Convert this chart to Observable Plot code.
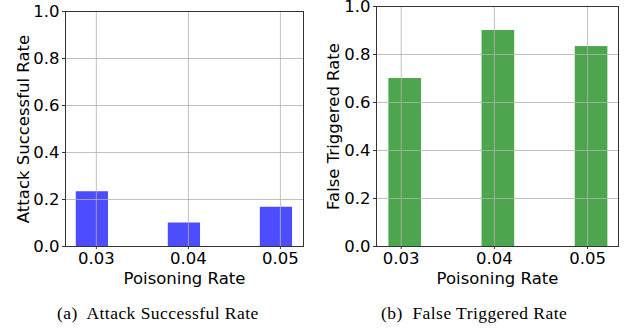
<!DOCTYPE html>
<html>
<head>
<meta charset="utf-8">
<script src="https://cdn.jsdelivr.net/npm/d3@7"></script>
<script src="https://cdn.jsdelivr.net/npm/@observablehq/plot@0.6"></script>
<style>
  html, body { margin: 0; padding: 0; background: #fff; }
  #wrap { position: relative; width: 634px; height: 331px; overflow: hidden; }
  #wrap svg { position: absolute; left: 0; top: 0; background: transparent !important; overflow: visible; }
  .cap { position: absolute; top: 303px; line-height: 20px; font-family: "Liberation Serif", "DejaVu Serif", serif; font-size: 17.5px; letter-spacing: 0.45px; color: #000; white-space: pre; }
</style>
</head>
<body>
<div id="wrap"></div>
<script>
// Data
const poisoningRates = [0.03, 0.04, 0.05];
const attackSuccessRate = [0.233, 0.1, 0.167];
const falseTriggeredRate = [0.7, 0.9, 0.833];
const yTicks = [0, 0.2, 0.4, 0.6, 0.8, 1.0];
const xLabel = "Poisoning Rate";
const yLabels = ["Attack Successful Rate", "False Triggered Rate"];
const captions = ["(a)  Attack Successful Rate", "(b)  False Triggered Rate"];
const colors = ["#4d4dff", "#4da64d"];

const W = 634, H = 290;
const barW = 0.0035;

function panel(values, opts) {
  const data = poisoningRates.map((r, i) => ({rate: r, v: values[i]}));
  return Plot.plot({
    width: W, height: H,
    marginLeft: opts.ml, marginRight: opts.mr, marginTop: opts.mt, marginBottom: opts.mb,
    style: {fontFamily: "DejaVu Sans", fontSize: "16.5px", background: "transparent", color: "#000", overflow: "visible"},
    x: {type: "linear", domain: opts.xd, ticks: poisoningRates, tickFormat: d3.format(".2f")},
    y: {domain: [0, 1], ticks: yTicks, tickFormat: d3.format(".1f")},
    marks: [
      Plot.rectY(data, {x1: d => d.rate + opts.off - barW / 2, x2: d => d.rate + opts.off + barW / 2, y1: 0, y2: "v", fill: opts.color}),
      Plot.gridX(poisoningRates, {stroke: "#b0b0b0", strokeOpacity: 0.8, strokeWidth: 1}),
      Plot.gridY(yTicks, {stroke: "#b0b0b0", strokeOpacity: 0.8, strokeWidth: 1}),
      Plot.axisX(poisoningRates, {tickSize: 3, tickPadding: 3, fontSize: 16.5, label: null, stroke: "#333"}),
      Plot.axisY(yTicks, {tickSize: 3, tickPadding: 3, fontSize: 16.5, label: null, stroke: "#333"}),
      Plot.frame({stroke: "#333", strokeWidth: 1}),
      Plot.text([opts.ylabel], {frameAnchor: "left", textAnchor: "middle", lineAnchor: "middle", dx: opts.ldx, rotate: -90, fontSize: 16.5, fill: "#000"}),
      Plot.text([xLabel], {frameAnchor: "bottom", textAnchor: "middle", lineAnchor: "middle", dy: 32, fontSize: 16.5, fill: "#000"})
    ]
  });
}

const wrap = document.getElementById("wrap");
wrap.appendChild(panel(attackSuccessRate, {
  ml: 65, mr: W - 303, mt: 11, mb: H - 246,
  xd: [0.02665, 0.05251], off: -0.00043, color: colors[0],
  ylabel: yLabels[0], ldx: -42
}));
wrap.appendChild(panel(falseTriggeredRate, {
  ml: 376, mr: W - 618, mt: 6, mb: H - 246,
  xd: [0.02735, 0.05332], off: 0.00043, color: colors[1],
  ylabel: yLabels[1], ldx: -43
}));
captions.forEach((c, i) => {
  const d = document.createElement("div");
  d.className = "cap";
  d.textContent = c;
  d.style.left = (i === 0 ? 57 : 381) + "px";
  wrap.appendChild(d);
});
</script>
</body>
</html>
